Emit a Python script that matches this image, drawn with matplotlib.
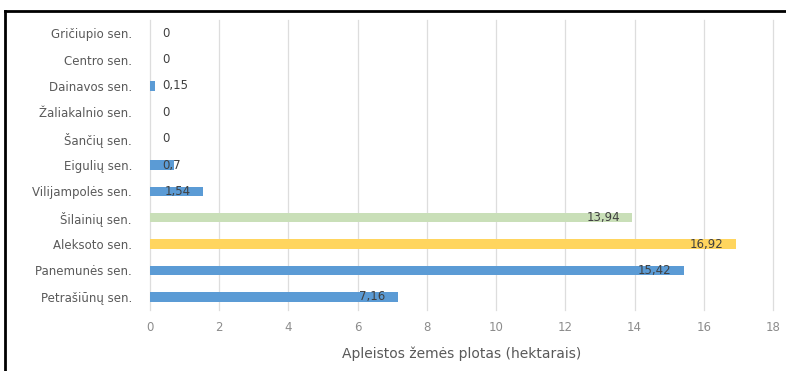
import matplotlib
matplotlib.use("Agg")
import matplotlib.pyplot as plt
from matplotlib.lines import Line2D

# Seniūnijos, listed top to bottom
categories = [
    "Gričiupio sen.", "Centro sen.", "Dainavos sen.", "Žaliakalnio sen.",
    "Šančių sen.", "Eigulių sen.", "Vilijampolės sen.", "Šilainių sen.",
    "Aleksoto sen.", "Panemunės sen.", "Petrašiūnų sen.",
]
values = [0, 0, 0.15, 0, 0, 0.7, 1.54, 13.94, 16.92, 15.42, 7.16]
value_labels = ["0", "0", "0,15", "0", "0", "0,7", "1,54", "13,94", "16,92", "15,42", "7,16"]

BLUE = "#5B9BD5"
GREEN = "#C9DFB8"
YELLOW = "#FFD55E"
bar_colors = [BLUE] * 7 + [GREEN, YELLOW, BLUE, BLUE]

x_ticks = list(range(0, 19, 2))
x_label = "Apleistos žemės plotas (hektarais)"

plt.rcParams["font.family"] = ["DejaVu Sans"]

fig = plt.figure(figsize=(7.86, 3.71), dpi=100)
ax = fig.add_axes([150 / 786, 1 - 310 / 371, (773 - 150) / 786, (310 - 20) / 371])

ypos = list(range(len(categories)))
ax.barh(ypos, values, height=0.36, color=bar_colors, zorder=3)

ax.set_xlim(0, 18)
ax.set_ylim(len(categories) - 0.5, -0.5)
ax.set_yticks(ypos)
ax.set_yticklabels(categories, fontsize=8.5, color="#595959")
ax.set_xticks(x_ticks)
ax.set_xticklabels([str(t) for t in x_ticks], fontsize=8.5, color="#8C8C8C")
ax.tick_params(axis="both", length=0)
ax.tick_params(axis="y", pad=13)
ax.tick_params(axis="x", pad=8)
ax.set_xlabel(x_label, fontsize=10, color="#595959", labelpad=9)

ax.grid(axis="x", color="#DDDDDD", linewidth=0.9, zorder=0)
for gl in ax.get_xgridlines():
    gl.set_clip_on(False)
for s in ax.spines.values():
    s.set_visible(False)

# Data labels: inside the bar end for longer bars, just right of zero otherwise
for y, v, lab in zip(ypos, values, value_labels):
    if v >= 1.5:
        ax.text(v - 0.35, y, lab, ha="right", va="center", fontsize=8.5,
                color="#404040", zorder=4)
    else:
        ax.text(0.35, y, lab, ha="left", va="center", fontsize=8.5,
                color="#404040", zorder=4)

# Black frame around the chart area
fig.add_artist(Line2D([5 / 786, 1.0], [1 - 11 / 371, 1 - 11 / 371],
                      transform=fig.transFigure, color="black", linewidth=2))
fig.add_artist(Line2D([5 / 786, 5 / 786], [0.0, 1 - 11 / 371],
                      transform=fig.transFigure, color="black", linewidth=2))

fig.savefig("out.png", dpi=100, facecolor="white")
